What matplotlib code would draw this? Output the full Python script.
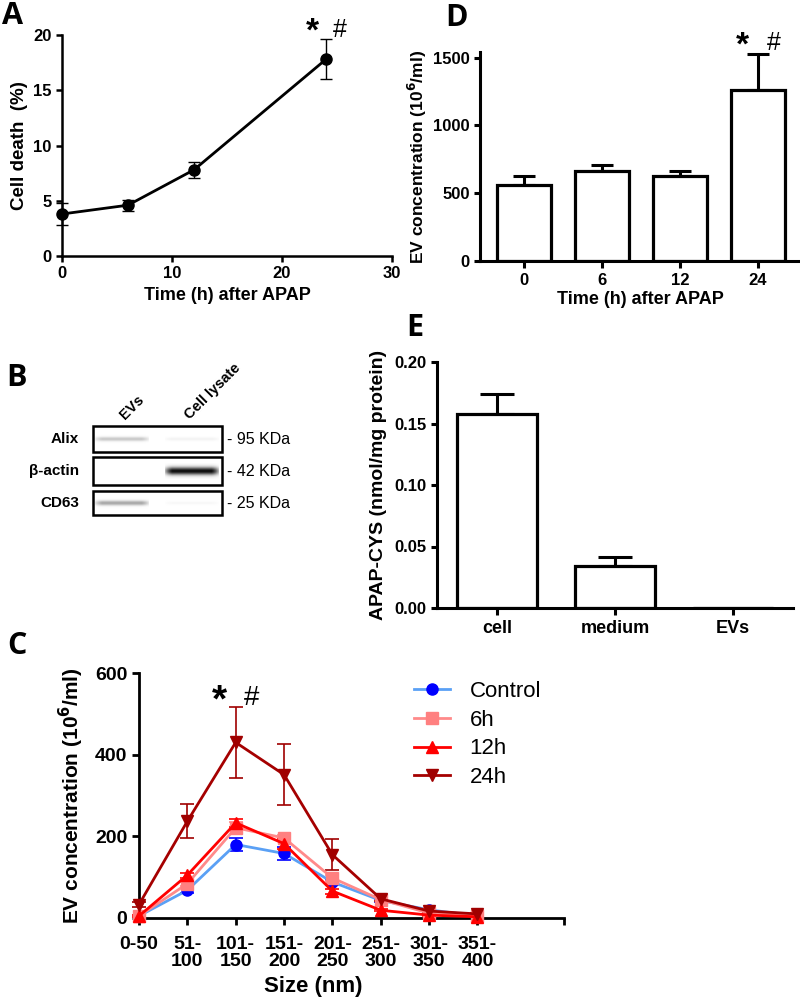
import numpy as np
import matplotlib
matplotlib.use("Agg")
import matplotlib.pyplot as plt
from matplotlib.patches import Rectangle
from matplotlib.lines import Line2D

plt.rcParams['font.family'] = ['Liberation Sans', 'DejaVu Sans']
plt.rcParams['font.weight'] = 'bold'
plt.rcParams['axes.linewidth'] = 1.8

# ---- data ----
# A: cell death over time
a_time = [0, 6, 12, 24]
a_death = [3.8, 4.6, 7.8, 17.8]
a_err = [1.0, 0.5, 0.7, 1.8]

# D: EV concentration over time
d_labels = ['0', '6', '12', '24']
d_conc = [563, 664, 625, 1264]
d_err = [64, 47, 36, 260]

# E: APAP-CYS
e_labels = ['cell', 'medium', 'EVs']
e_vals = [0.158, 0.0345, 0.0]
e_err = [0.016, 0.007, 0.0]

# C: size distribution
c_sizes = ['0-50', '51-\n100', '101-\n150', '151-\n200', '201-\n250', '251-\n300', '301-\n350', '351-\n400']
c_control = [5, 68, 180, 158, 88, 43, 20, 5]
c_control_err = [2, 6, 17, 15, 6, 4, 3, 1]
c_6h = [5, 84, 221, 196, 98, 45, 12, 5]
c_6h_err = [2, 6, 15, 8, 8, 4, 2, 1]
c_12h = [5, 105, 233, 182, 66, 19, 7, 3]
c_12h_err = [2, 6, 10, 12, 6, 3, 2, 1]
c_24h = [33, 237, 430, 351, 155, 47, 17, 10]
c_24h_err = [5, 41, 87, 75, 38, 6, 3, 2]

# B: western blot band intensities (rows = proteins, cols = lanes)
b_lanes = ['EVs', 'Cell lysate']
b_proteins = ['Alix', 'β-actin', 'CD63']
b_sizes = ['- 95 KDa', '- 42 KDa', '- 25 KDa']
b_intensity = [[0.22, 0.05], [0.0, 0.95], [0.35, 0.03]]

W, H = 800, 998
fig = plt.figure(figsize=(W / 100, H / 100), dpi=100)


def box(l, t, r, b):
    return [l / W, 1 - b / H, (r - l) / W, (b - t) / H]


def style(ax, fs=12, lw=1.8):
    for s in ['top', 'right']:
        ax.spines[s].set_visible(False)
    for s in ['left', 'bottom']:
        ax.spines[s].set_linewidth(lw)
    ax.tick_params(direction='out', length=4, width=lw, labelsize=fs)
    for t in ax.get_xticklabels() + ax.get_yticklabels():
        t.set_fontweight('bold')


letter_font = dict(family=['Open Sans', 'DejaVu Sans'], fontweight='bold', fontsize=22)

# ---- A ----
axA = fig.add_axes(box(62, 35, 392, 256))
axA.errorbar(a_time, a_death, yerr=a_err, color='black', lw=2.0, marker='o', ms=8,
             capsize=4, elinewidth=1.0, capthick=1.0, clip_on=False, zorder=3)
axA.set_xlim(0, 30)
axA.set_ylim(0, 20)
axA.set_xticks([0, 10, 20, 30])
axA.set_yticks([0, 5, 10, 15, 20])
style(axA)
axA.set_ylabel('Cell death  (%)', fontsize=13.5, fontweight='bold', labelpad=4)
axA.set_xlabel('Time (h) after APAP', fontsize=13, fontweight='bold', labelpad=4)
axA.text(22.8, 18.9, '*', fontsize=24, ha='center', va='bottom', fontweight='bold')
axA.text(25.3, 19.4, '#', fontsize=18, ha='center', va='bottom', fontweight='normal')
fig.text(2 / W, 1 - 16 / H, 'A', va='center', ha='left', **letter_font)

# ---- D ----
axD = fig.add_axes(box(480, 52, 800, 261))
xd = np.arange(len(d_labels))
axD.bar(xd, d_conc, width=0.69, color='white', edgecolor='black', lw=2.3, zorder=2)
axD.errorbar(xd, d_conc, yerr=[np.zeros(len(d_err)), d_err], fmt='none', ecolor='black',
             elinewidth=2.2, capsize=8, capthick=2.2, zorder=1)
axD.set_xlim(-0.56, 3.54)
axD.set_ylim(0, 1541)
axD.set_xticks(xd)
axD.set_xticklabels(d_labels)
axD.set_yticks([0, 500, 1000, 1500])
style(axD, lw=2.2)
axD.tick_params(axis='x', length=5)
axD.set_ylabel('EV concentration (10$^{\\mathbf{6}}$/ml)', fontsize=12.5, fontweight='bold', labelpad=3)
axD.set_xlabel('Time (h) after APAP', fontsize=13, fontweight='bold', labelpad=2)
axD.text(3 - 0.2, 1470, '*', fontsize=24, ha='center', va='bottom', fontweight='bold')
axD.text(3 + 0.2, 1520, '#', fontsize=18, ha='center', va='bottom', fontweight='normal')
fig.text(445 / W, 1 - 18 / H, 'D', va='center', ha='left', **letter_font)

# ---- E ----
axE = fig.add_axes(box(437, 362, 793, 608))
xe = np.arange(len(e_labels))
axE.bar(xe, e_vals, width=0.68, color='white', edgecolor='black', lw=2.3, zorder=2)
axE.errorbar(xe[:2], e_vals[:2], yerr=[np.zeros(2), e_err[:2]], fmt='none', ecolor='black',
             elinewidth=2.2, capsize=12, capthick=2.2, zorder=1)
axE.set_xlim(-0.51, 2.51)
axE.set_ylim(0, 0.2)
axE.set_xticks(xe)
axE.set_xticklabels(e_labels)
axE.set_yticks([0, 0.05, 0.10, 0.15, 0.20])
axE.set_yticklabels(['0.00', '0.05', '0.10', '0.15', '0.20'])
style(axE, fs=12, lw=2.2)
axE.tick_params(axis='x', length=5, labelsize=13)
axE.set_ylabel('APAP-CYS (nmol/mg protein)', fontsize=14, fontweight='bold', labelpad=5)
fig.text(406 / W, 1 - 328 / H, 'E', va='center', ha='left', **letter_font)

# ---- C ----
axC = fig.add_axes(box(139, 673, 564, 918))
xc = np.arange(len(c_sizes))
series = [
    ('Control', c_control, c_control_err, '#5aa0f5', '#0000ff', 'o'),
    ('6h', c_6h, c_6h_err, '#ff8a8a', '#ff8080', 's'),
    ('12h', c_12h, c_12h_err, '#ff0000', '#ff0000', '^'),
    ('24h', c_24h, c_24h_err, '#a50000', '#a00000', 'v'),
]
handles = []
for name, vals, err, lc, mc, mk in series:
    axC.errorbar(xc, vals, yerr=err, color=lc, mfc=mc, mec=mc, marker=mk, ms=8, lw=2.0,
                 elinewidth=1.2, capsize=5, capthick=1.2, ecolor=mc if name != '6h' else lc,
                 clip_on=False, zorder=3)
    handles.append(Line2D([], [], color=lc, mfc=mc, mec=mc, marker=mk, ms=8, lw=2.0, label=name))
axC.set_xlim(0, 8.79)
axC.set_ylim(0, 600)
axC.set_xticks(list(xc) + [8.79])
axC.set_xticklabels(c_sizes + [''])
axC.set_yticks([0, 200, 400, 600])
style(axC, fs=14, lw=2.0)
axC.tick_params(axis='both', length=5)
axC.tick_params(axis='x', pad=8)
for t in axC.get_xticklabels():
    t.set_linespacing(1.0)
axC.set_ylabel('EV concentration (10$^{\\mathbf{6}}$/ml)', fontsize=15, fontweight='bold', labelpad=6)
axC.set_xlabel('Size (nm)', fontsize=16, fontweight='bold')
axC.xaxis.set_label_coords(0.41, -0.235)
axC.text(2 - 0.33, 485, '*', fontsize=28, ha='center', va='bottom', fontweight='bold')
axC.text(2 + 0.33, 506, '#', fontsize=20, ha='center', va='bottom', fontweight='normal')
axC.legend(handles=handles, loc='upper left', bbox_to_anchor=(0.60, 1.05), frameon=False,
           prop={'size': 16, 'weight': 'normal'}, handlelength=1.6,
           labelspacing=0.35, handletextpad=0.9)
fig.text(7 / W, 1 - 646 / H, 'C', va='center', ha='left', **letter_font)

# ---- B (western blot) ----
axB = fig.add_axes([0, 1 - 560 / H, 400 / W, 220 / H])
axB.set_xlim(0, 400)
axB.set_ylim(560, 340)
axB.axis('off')
blot_l, blot_r = 93, 222
row_top = [426, 457, 491]
row_bot = [452, 485, 515]
lane_c = [122, 192]
for i, prot in enumerate(b_proteins):
    t, b = row_top[i], row_bot[i]
    mid = (t + b) / 2
    for j in range(len(b_lanes)):
        inten = b_intensity[i][j]
        if inten <= 0:
            continue
        yy = np.linspace(-1, 1, 30)[:, None]
        xx = np.linspace(-1, 1, 80)[None, :]
        thick = 0.2 + 0.3 * inten
        prof = np.exp(-(yy / thick) ** 2) * np.clip(1.3 - np.abs(xx) ** 4, 0, 1)
        img = 1 - inten * prof
        axB.imshow(img, cmap='gray', vmin=0, vmax=1, extent=[lane_c[j] - 27, lane_c[j] + 27, mid + 8, mid - 8],
                   aspect='auto', interpolation='bilinear', zorder=1)
    axB.add_patch(Rectangle((blot_l, t), blot_r - blot_l, b - t, fill=False, ec='black', lw=1.8, zorder=2))
    axB.text(blot_l - 14, mid, prot, ha='right', va='center', fontsize=11, fontweight='bold')
    axB.text(blot_r + 5, mid, b_sizes[i], ha='left', va='center', fontsize=11.5, fontweight='normal')
lane_x = [125, 190]
for j, lane in enumerate(b_lanes):
    axB.text(lane_x[j], 420, lane, rotation=45, ha='left', va='baseline',
             fontsize=10.5, fontweight='bold', rotation_mode='anchor')
fig.text(6 / W, 1 - 378 / H, 'B', va='center', ha='left', **letter_font)

fig.savefig('out.png', dpi=100)
